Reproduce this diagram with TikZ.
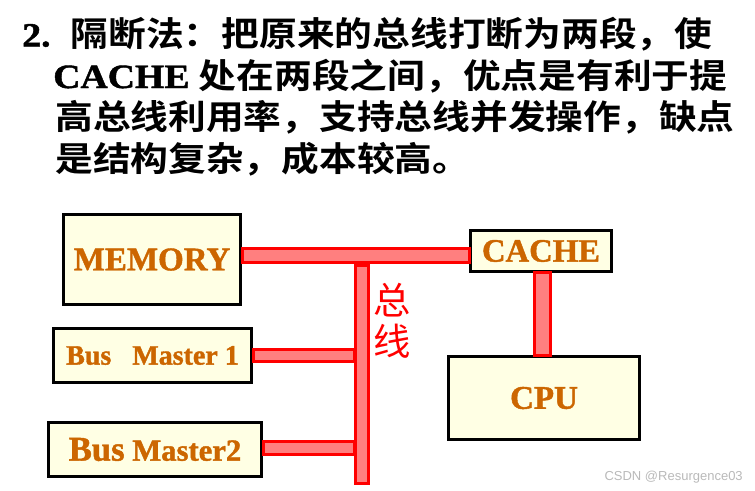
\documentclass[tikz,border=0pt]{standalone}
\usepackage{graphicx}
\usepackage{fontspec}
\setmainfont{Liberation Serif}[BoldFont={Liberation Serif Bold}, BoldFeatures={FakeBold=1.3}]
\newfontfamily\cjk{Noto Sans CJK SC}[BoldFont=* Bold]
\newfontfamily\marksans{Liberation Sans}
\usetikzlibrary{calc}

\begin{document}
\begin{tikzpicture}[x=0.75pt,y=0.75pt,yscale=-1,xscale=1,
    unitbox/.style={draw=black, line width=2.25pt, fill={rgb,255:red,255;green,255;blue,228}, inner sep=0pt, text={rgb,255:red,204;green,102;blue,0}},
    busbar/.style={draw=red, line width=2.25pt, fill=red, fill opacity=0.5},
    titleline/.style={anchor=base west, inner sep=0pt, font=\bfseries\fontsize{25.5}{30}\selectfont}]
    \useasboundingbox (0,0) rectangle (755,490);
    
    % Text Node
    \node[titleline] (line1) at (22,46.5) {\scalebox{1.11}[1]{2.\hspace{13.6pt}{\cjk 隔断法：把原来的总线打断为两段，使}}};
    % Text Node
    \node[titleline] (line2) at (53,88) {\scalebox{1.11}[1]{CACHE {\cjk 处在两段之间，优点是有利于提}}};
    % Text Node
    \node[titleline] (line3) at (55,129.5) {\scalebox{1.11}[1]{\cjk 高总线利用率，支持总线并发操作，缺点}};
    % Text Node
    \node[titleline] (line4) at (55,171) {\scalebox{1.11}[1]{\cjk 是结构复杂，成本较高。}};
    
    %Shape: Rectangle
    \node[unitbox, minimum width=132.75pt, minimum height=67.5pt, font=\bfseries\fontsize{24.75}{28}\selectfont] (memory) at (152,259.5) {MEMORY};
    %Shape: Rectangle
    \node[unitbox, minimum width=148.5pt, minimum height=40.5pt, font=\bfseries\fontsize{21}{24}\selectfont] (master1) at (152.5,355.5) {Bus\ \ \ Master 1};
    %Shape: Rectangle
    \node[unitbox, minimum width=159.75pt, minimum height=40.5pt, font=\bfseries\fontsize{23}{26}\selectfont] (master2) at (155,449.5) {{\fontsize{26}{28}\selectfont Bus} Master2};
    %Shape: Rectangle
    \node[unitbox, minimum width=105.75pt, minimum height=30.75pt, font=\bfseries\fontsize{24.5}{28}\selectfont] (cache) at (541,251) {CACHE};
    %Shape: Rectangle
    \node[unitbox, minimum width=143.25pt, minimum height=62.25pt, font=\bfseries\fontsize{24.75}{28}\selectfont] (cpu) at (544,398) {CPU};
    
    %Bus lines
    \draw[busbar] (memory.east |- 0,248) rectangle (cache.west |- 0,262.5);
    \node[busbar, minimum width=9.75pt, minimum height=163.5pt, inner sep=0pt] (bus) at (362,374.5) {};
    \draw[busbar] (master1.east |- 0,349.2) rectangle (bus.west |- 0,361.5);
    \draw[busbar] (master2.east |- 0,441.5) rectangle (bus.west |- 0,454.5);
    \draw[busbar] ($(cache.south)+(-6.5,-1)$) rectangle ($(cpu.north)+(6.5,0)$);
    
    % Text Node
    \node[text=red, font=\cjk\fontsize{28}{31}\selectfont, align=center, inner sep=0pt] (buslabel) at (392,320.5) {总\\线};
    % Text Node
    \node[anchor=east, inner sep=0pt, text={rgb,255:red,185;green,185;blue,185}, font=\marksans\fontsize{9.75}{12}\selectfont] (mark) at (743,477) {CSDN @Resurgence03};
\end{tikzpicture}
\end{document}
